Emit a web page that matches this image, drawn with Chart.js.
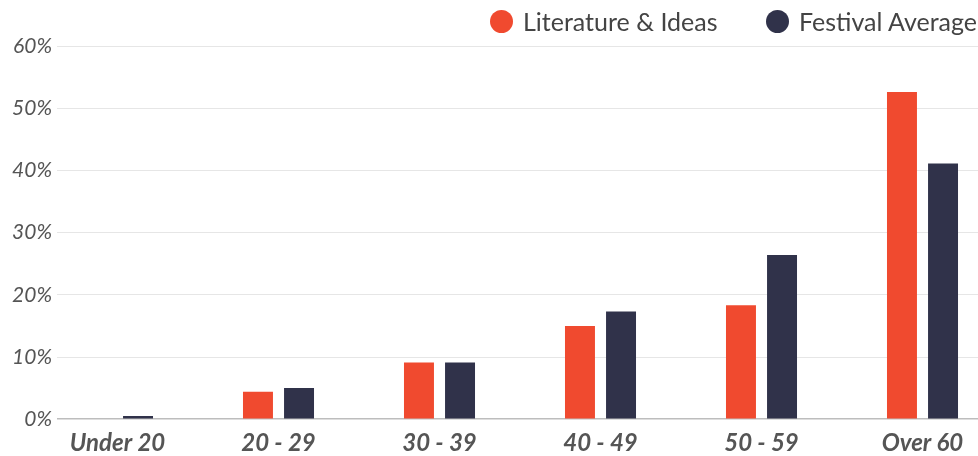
<!DOCTYPE html>
<html>
<head>
<meta charset="utf-8">
<script src="https://cdn.jsdelivr.net/npm/chart.js@4.4.1/dist/chart.umd.min.js"></script>
<style>
    html, body { margin: 0; padding: 0; background: #fff; overflow: hidden; }
    #wrap { position: relative; width: 978px; height: 456px; overflow: hidden; }
    #box { position: absolute; left: 0; top: 0; width: 1003px; height: 468px; }
    .lg-item { position: absolute; top: 6px; height: 30px; display: flex; align-items: center;
               font: 25px Lato, sans-serif; color: #444; white-space: nowrap; }
    .lg-dot { width: 23px; height: 23px; border-radius: 50%; margin-right: 10px; flex-shrink: 0; }
</style>
</head>
<body>
<div id="wrap">
    <div id="box"><canvas id="ageChart"></canvas></div>
    <div id="legend"></div>
</div>
<script>
// age profile: Literature & Ideas vs festival average (% of audience)
const AGE_GROUPS = ['Under 20', '20 - 29', '30 - 39', '40 - 49', '50 - 59', 'Over 60'];
const LIT_IDEAS = [0, 4.4, 9.1, 15.0, 18.3, 52.6];
const FEST_AVG = [0.5, 5.0, 9.1, 17.3, 26.4, 41.1];
const SERIES_NAMES = ['Literature & Ideas', 'Festival Average'];
const SERIES_COLORS = ['#F04A2F', '#30324A'];
const Y_TICKS = [0, 10, 20, 30, 40, 50, 60];

const LEGEND_LEFT = [490, 766];
const Y_AXIS_W = 57;
const X_EXTRA_LEFT = 20;   // category band starts left of the grid lines

// ── Legend (html, so the item spacing can match) ──────────────────────────────
const lg = document.getElementById('legend');
lg.innerHTML = SERIES_NAMES.map((name, i) =>
    `<div class="lg-item" style="left:${LEGEND_LEFT[i]}px;">
        <span class="lg-dot" style="background:${SERIES_COLORS[i]};"></span>${name}
    </div>`).join('');

// let the x scale reach under the y labels, grid stays where it is
const xStretch = {
    id: 'xStretch',
    afterLayout(chart) {
        const x = chart.scales.x;
        x.left -= X_EXTRA_LEFT;
        x.width = x.right - x.left;
        x.configure();
    },
};

// ── Bar chart ─────────────────────────────────────────────────────────────────
function drawAgeChart() {
    new Chart(document.getElementById('ageChart'), {
        type: 'bar',
        data: {
            labels: AGE_GROUPS,
            datasets: [
                { label: SERIES_NAMES[0], data: LIT_IDEAS, backgroundColor: SERIES_COLORS[0] },
                { label: SERIES_NAMES[1], data: FEST_AVG, backgroundColor: SERIES_COLORS[1] },
            ],
        },
        plugins: [xStretch],
        options: {
            responsive: true,
            maintainAspectRatio: false,
            animation: false,
            datasets: { bar: { categoryPercentage: 0.51, barPercentage: 0.73 } },
            layout: { padding: { left: 0, top: 46, right: 0, bottom: 0 } },
            plugins: { legend: { display: false }, tooltip: { enabled: false } },
            scales: {
                x: {
                    grid: { display: false, drawTicks: false },
                    border: { display: false },
                    ticks: {
                        padding: 10,
                        color: '#555',
                        font: { family: 'Lato', size: 24, style: 'italic', weight: 'bold' },
                    },
                },
                y: {
                    min: Y_TICKS[0],
                    max: Y_TICKS[Y_TICKS.length - 1],
                    border: { display: false },
                    afterFit: (s) => { s.width = Y_AXIS_W; },
                    grid: {
                        drawTicks: false,
                        color: (c) => c.tick && c.tick.value === 0 ? '#bdbdbd' : '#e6e6e6',
                        lineWidth: (c) => c.tick && c.tick.value === 0 ? 1.5 : 1,
                    },
                    ticks: {
                        stepSize: Y_TICKS[1] - Y_TICKS[0],
                        padding: 5,
                        color: '#555',
                        font: { family: 'Lato', size: 21, style: 'italic' },
                        callback: (v) => v + '%',
                    },
                },
            },
        },
    });
}

Promise.all([
    document.fonts.load('italic 21px Lato'),
    document.fonts.load('italic bold 24px Lato'),
    document.fonts.load('25px Lato'),
]).then(drawAgeChart, drawAgeChart);
</script>
</body>
</html>
